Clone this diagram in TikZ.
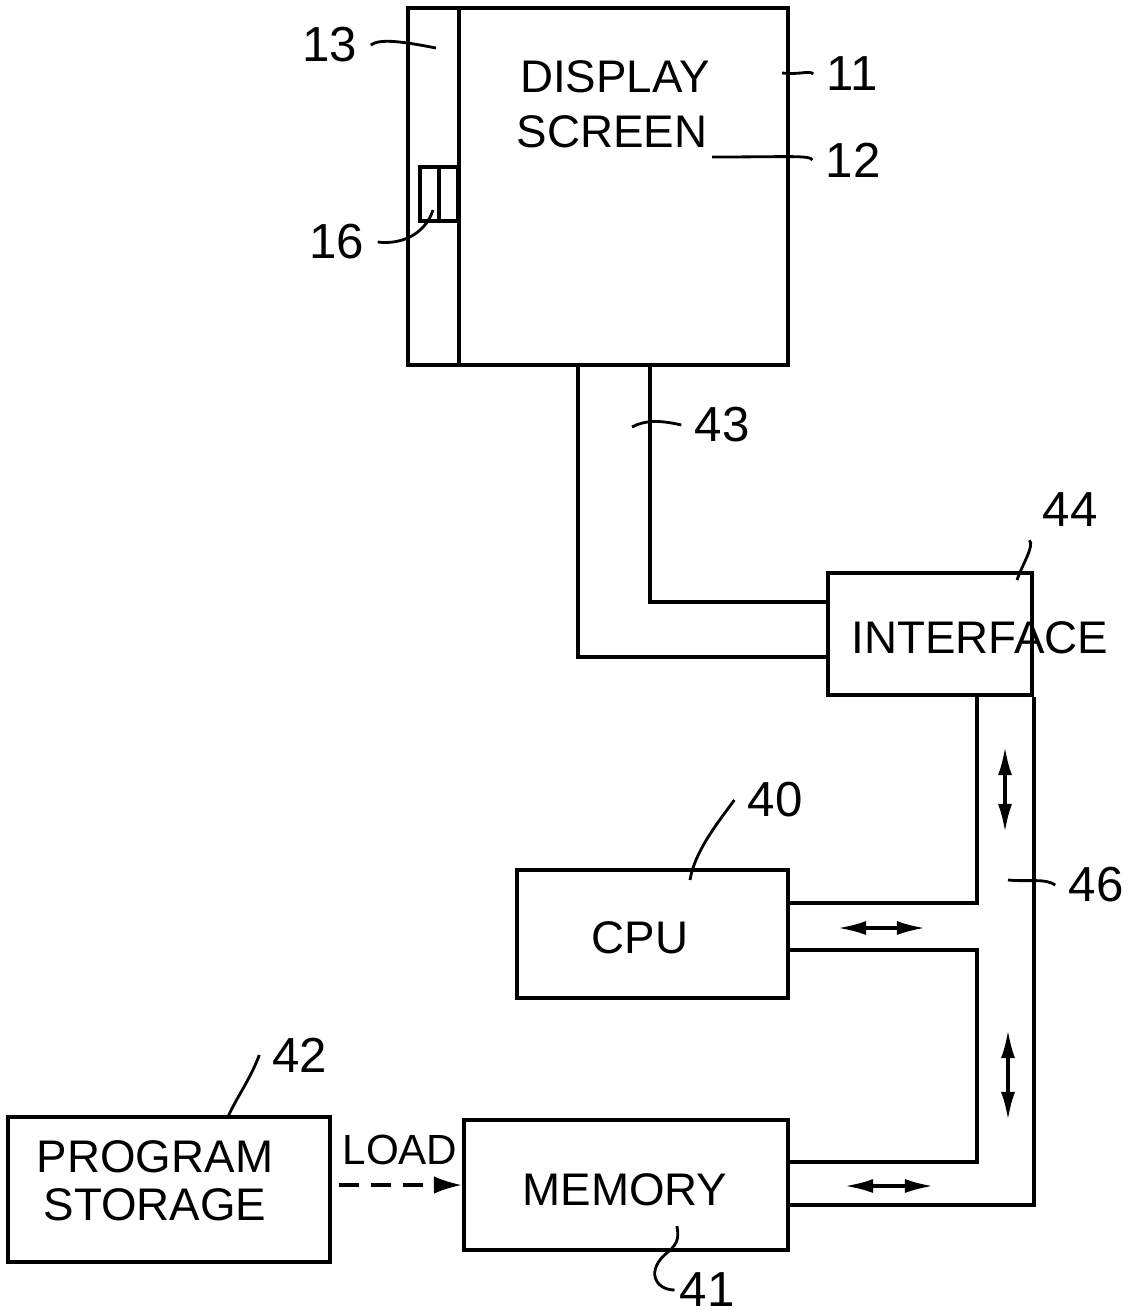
\documentclass[tikz,border=0pt]{standalone}
\usepackage{fontspec}
\setmainfont{Liberation Sans}
\usetikzlibrary{arrows.meta}

\begin{document}
\begin{tikzpicture}[x=0.01cm, y=-0.01cm, line width=0.9pt,
  blk/.style={draw, line width=1.1pt, inner sep=0pt},
  txt/.style={font=\fontsize{13}{15}\selectfont},
  num/.style={font=\fontsize{14}{16}\selectfont},
  ldr/.style={line width=0.8pt},
  dbl/.style={{Latex[length=8pt,width=4pt]}-{Latex[length=8pt,width=4pt]}, line width=0.9pt}]
\useasboundingbox (0,0) rectangle (1133,1315);
\node[blk, minimum width=3.8cm, minimum height=3.57cm] (disp) at (598,186.5) {};
\node[blk, minimum width=0.38cm, minimum height=0.54cm] (k16) at (439,194) {};
\node[blk, minimum width=2.04cm, minimum height=1.22cm] (intf) at (930,634) {};
\node[blk, minimum width=2.71cm, minimum height=1.28cm] (cpu) at (652.5,934) {};
\node[blk, minimum width=3.24cm, minimum height=1.30cm] (mem) at (626,1185) {};
\node[blk, minimum width=3.22cm, minimum height=1.45cm] (prog) at (169,1189.5) {};
\node[txt] at (615,77) {DISPLAY};
\node[txt] at (612,132) {SCREEN};
\node[txt] at (980,638) {INTERFACE};
\node[txt] at (640,938) {CPU};
\node[txt] at (625,1190) {MEMORY};
\node[txt] at (155,1157) {PROGRAM};
\node[txt] at (155,1205) {STORAGE};
\node[txt, font=\fontsize{12}{14}\selectfont] (ld) at (400,1150) {LOAD};
% side strip and window
\coordinate (s13) at (459,0);
\draw[line width=1.1pt] (disp.north -| s13) -- (disp.south -| s13);
\draw (k16.north) -- (k16.south);
% bus 43
\coordinate (a1) at (578,657);
\coordinate (a2) at (650,602);
\draw (disp.south -| a1) |- (intf.west |- a1);
\draw (disp.south -| a2) |- (intf.west |- a2);
% bus 46
\coordinate (b1) at (977,903);
\coordinate (b2) at (977,950);
\coordinate (b3) at (977,1162);
\coordinate (b4) at (1032,1205);
\draw (intf.south -| b1) |- (cpu.east |- b1);
\draw (cpu.east |- b2) -- (b2) -- (b3) -- (mem.east |- b3);
\draw (intf.south east) |- (mem.east |- b4);
\draw[dbl] (1005,747) -- (1005,832);
\draw[dbl] (838,928) -- (925,928);
\draw[dbl] (1008,1030) -- (1008,1120);
\draw[dbl] (845,1186) -- (933,1186);
% load
\draw[dashed, dash pattern=on 0.2cm off 0.12cm, shorten <=0.07cm, -{Latex[length=8pt,width=5pt]}] (prog.east |- mem.west) -- (mem.west);
% reference numerals
\node[num] (l13) at (330,45) {13};
\node[num] (l11) at (852,74) {11};
\node[num] (l12) at (853,160) {12};
\node[num] (l16) at (337,242) {16};
\node[num] (l43) at (722,425) {43};
\node[num] (l44) at (1070,510) {44};
\node[num] (l40) at (775,800) {40};
\node[num] (l46) at (1096,885) {46};
\node[num] (l42) at (300,1055) {42};
\node[num, inner sep=1pt] (l41) at (707,1290) {41};
\draw[ldr] (l13.east) .. controls (380,38) and (405,42) .. (436,48);
\draw[ldr] (l11.west) .. controls (810,70) and (800,75) .. (782,73);
\draw[ldr] (l12.west) .. controls (810,155) and (790,157) .. (712,157);
\draw[ldr] (l16.east) .. controls (400,245) and (425,235) .. (433,210);
\draw[ldr] (l43.west) .. controls (660,420) and (645,420) .. (632,427);
\draw[ldr] (l44.south west) .. controls (1035,545) and (1022,565) .. (1017,580);
\draw[ldr] (l40.west) .. controls (720,820) and (695,850) .. (690,880);
\draw[ldr] (l46.west) .. controls (1045,878) and (1030,882) .. (1008,880);
\draw[ldr] (l42.west) .. controls (250,1080) and (235,1100) .. (228,1117);
\draw[ldr] (l41.west) .. controls (655,1290) and (645,1270) .. (668,1252) .. controls (680,1242) and (678,1235) .. (677,1226);
\end{tikzpicture}
\end{document}
